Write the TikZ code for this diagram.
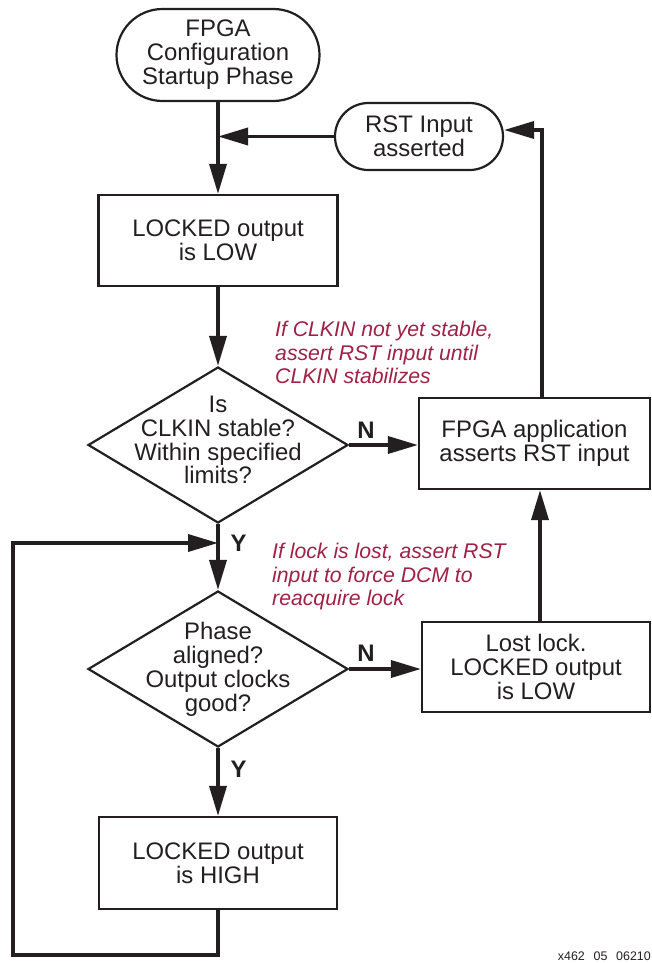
\documentclass[tikz,border=0pt]{standalone}
\usepackage{fontspec}
\setmainfont{Liberation Sans}
\usetikzlibrary{shapes.geometric,arrows.meta}
\definecolor{notecol}{RGB}{160,32,72}
\definecolor{ink}{RGB}{35,31,32}
\newcommand\mtxt{\fontsize{24}{24}\selectfont}
\newcommand\ntxt{\fontsize{21.3}{23.7}\selectfont}
\begin{document}
\begin{tikzpicture}[x=1bp,y=-1bp,
  border/.style={draw=ink, line width=2.2bp},
  box/.style={border, rectangle, inner sep=0pt, align=center, font=\mtxt, text=ink},
  term/.style={box, rounded corners=#1},
  dia/.style={border, diamond, minimum width=260bp, minimum height=156bp, inner sep=0pt},
  conn/.style={draw=ink, line width=3.6bp, line join=miter},
  arr/.style={conn, -{Triangle[length=30bp,width=17bp]}},
  lab/.style={font=\mtxt\bfseries, inner sep=0pt, text=ink},
  note/.style={font=\ntxt\itshape, text=notecol, align=left, inner sep=0pt, anchor=north west}]
\useasboundingbox (0,0) rectangle (652,963);

% nodes
\node[term=46bp, minimum width=203bp, minimum height=92bp] (start) at (218,55) {FPGA\\Configuration\\Startup Phase};
\node[term=33.5bp, minimum width=168bp, minimum height=67bp] (rst) at (419,136.5) {RST Input\\asserted};
\node[box, minimum width=239bp, minimum height=91bp] (low1) at (218,240.5) {LOCKED output\\is LOW};
\node[dia, label={[align=center, font=\mtxt, text=ink, yshift=5bp]center:{Is\\CLKIN stable?\\Within specified\\limits?}}] (d1) at (218,445) {};
\node[box, minimum width=231bp, minimum height=91bp] (app) at (534.5,443.5) {FPGA application\\asserts RST input};
\node[dia, label={[align=center, font=\mtxt, text=ink]center:{Phase\\aligned?\\Output clocks\\good?}}] (d2) at (218,669) {};
\node[box, minimum width=228bp, minimum height=90bp] (lost) at (536,667) {Lost lock.\\LOCKED output\\is LOW};
\node[box, minimum width=238bp, minimum height=92bp] (high) at (218,863) {LOCKED output\\is HIGH};

% annotations
\node[note] (n1) at (275,321) {If CLKIN not yet stable,\\assert RST input until\\CLKIN stabilizes};
\node[note] (n2) at (272,543) {If lock is lost, assert RST\\input to force DCM to\\reacquire lock};

% Y / N labels
\node[lab] (N1) at (366,430) {N};
\node[lab] (N2) at (366,653.5) {N};
\node[lab] (Y1) at (238.5,543) {Y};
\node[lab] (Y2) at (238.5,769) {Y};

% connectors
\coordinate (j1) at (start.south |- rst.west);
\coordinate (c1) at (542,130);
\coordinate (c2) at (540,600);
\coordinate (j2) at (218,543);
\coordinate (lb) at (13,955);
\draw[arr] (start.south) -- (low1.north);
\draw[arr] (rst.west) -- (j1);
\draw[arr] (low1.south) -- (d1.north);
\draw[arr] (d1.east) -- (d1.east -| app.west);
\draw[arr] (app.north -| c1) -- (c1) -- (c1 -| rst.east);
\draw[arr] (d1.south) -- (d2.north);
\draw[arr] (high.south) -- (high.south |- lb) -- (lb) -- (lb |- j2) -- (j2);
\draw[arr] (d2.east) -- (d2.east -| lost.west);
\draw[arr] (d2.south) -- (high.north);
\draw[arr] (lost.north -| c2) -- (app.south -| c2);

% figure id
\node[font=\fontsize{12.5}{13}\selectfont, text=ink, anchor=base east, inner sep=0pt] (fig) at (651,960) {x462\hspace{0.7em}05\hspace{0.7em}06210};
\end{tikzpicture}
\end{document}
